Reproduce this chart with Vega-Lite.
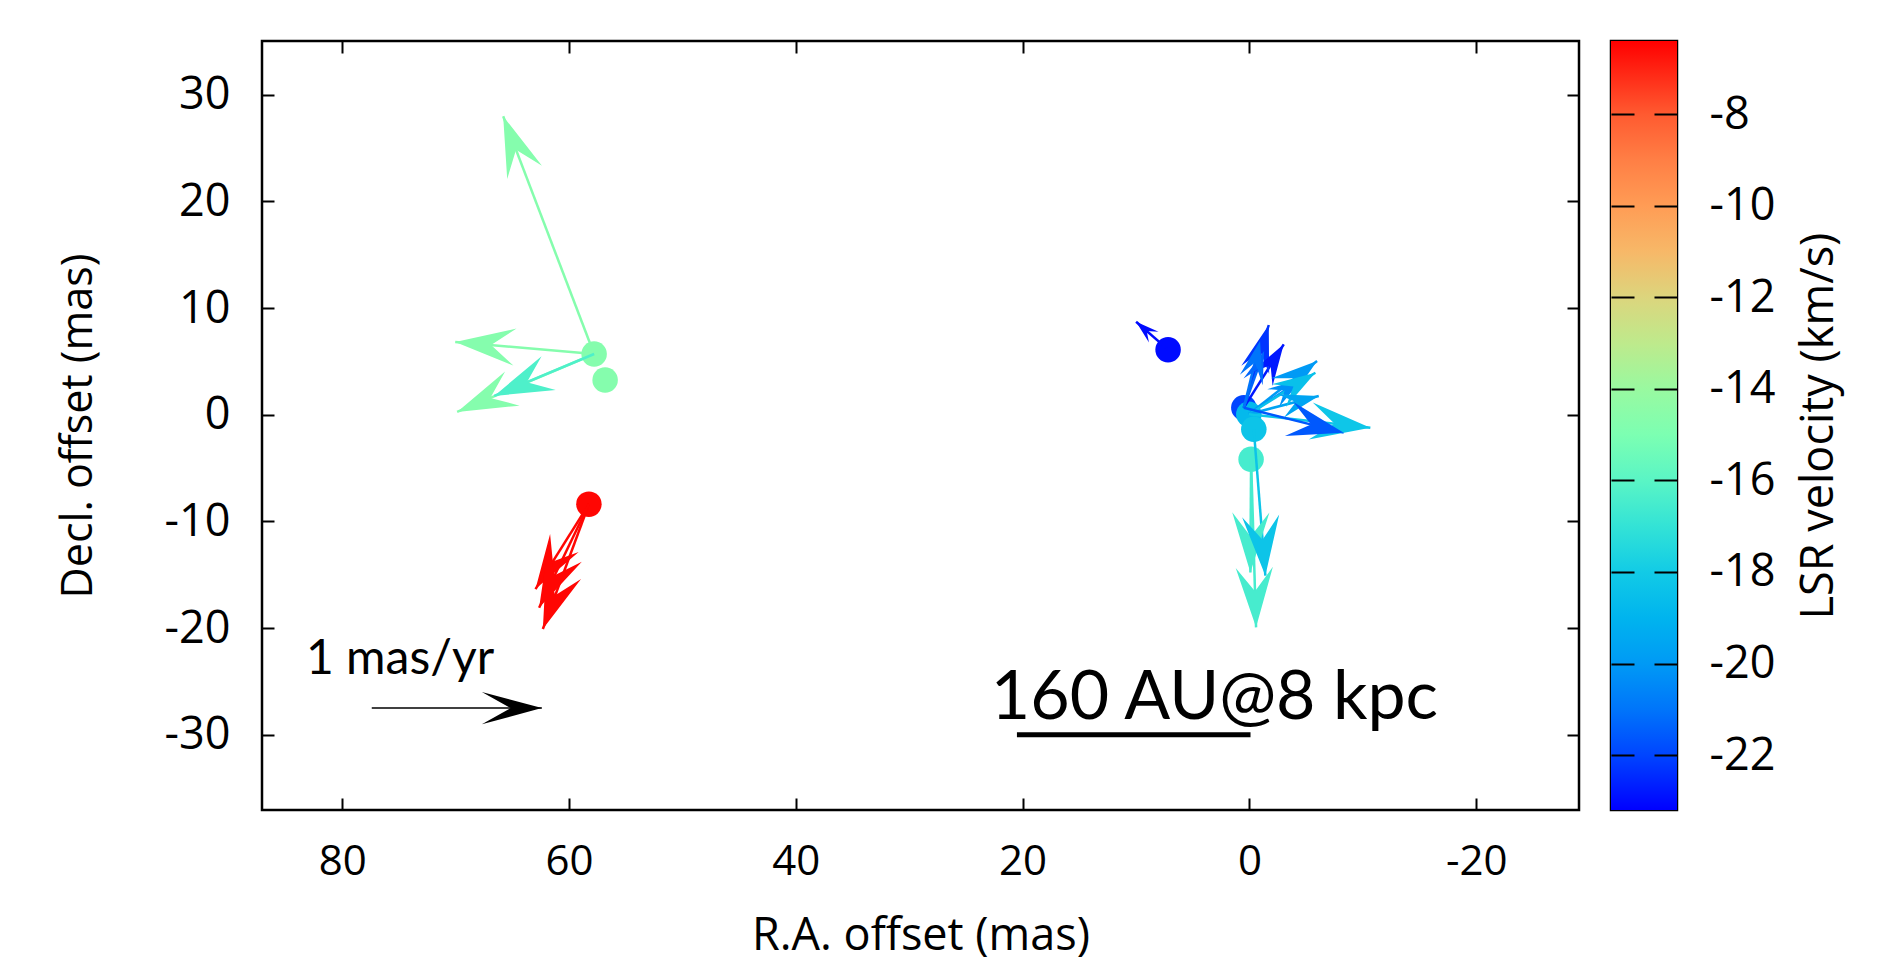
{
  "$schema": "https://vega.github.io/schema/vega-lite/v6.json",
  "background": "white",
  "padding": {"left": 55, "top": 38, "right": 5, "bottom": 5},
  "spacing": 26,
  "datasets": {
    "spots": [
      {"ra": 57.79, "dec": 5.69, "vlsr": -14.7},
      {"ra": 56.82, "dec": 3.26, "vlsr": -14.7},
      {"ra": 58.25, "dec": -8.38, "vlsr": -6.5},
      {"ra": 7.17, "dec": 6.10, "vlsr": -23.0},
      {"ra": 0.49, "dec": 0.66, "vlsr": -22.0},
      {"ra": 0.05, "dec": 0.05, "vlsr": -18.8},
      {"ra": -0.39, "dec": -1.36, "vlsr": -18.3},
      {"ra": -0.15, "dec": -4.17, "vlsr": -16.5}
    ],
    "vectors": [
      {"ra": 57.79, "dec": 5.69, "ra2": 65.81, "dec2": 27.98, "vlsr": -14.7, "mu": 1.48, "pa": 20.9},
      {"ra": 57.79, "dec": 5.69, "ra2": 70.04, "dec2": 6.82, "vlsr": -14.7, "mu": 0.81, "pa": 85.1},
      {"ra": 57.79, "dec": 5.69, "ra2": 69.87, "dec2": 0.26, "vlsr": -14.7, "mu": 0.87, "pa": 113.0},
      {"ra": 57.79, "dec": 5.69, "ra2": 66.60, "dec2": 1.76, "vlsr": -16.3, "mu": 0.63, "pa": 112.8},
      {"ra": 58.25, "dec": -8.38, "ra2": 62.31, "dec2": -20.08, "vlsr": -6.5, "mu": 0.77, "pa": 159.8},
      {"ra": 58.25, "dec": -8.38, "ra2": 62.96, "dec2": -16.34, "vlsr": -6.5, "mu": 0.58, "pa": 147.9},
      {"ra": 58.25, "dec": -8.38, "ra2": 62.64, "dec2": -18.09, "vlsr": -6.5, "mu": 0.67, "pa": 154.4},
      {"ra": 0.49, "dec": 0.66, "ra2": -1.71, "dec2": 8.41, "vlsr": -22.3, "mu": 0.50, "pa": 343.2},
      {"ra": 0.49, "dec": 0.66, "ra2": -3.03, "dec2": 6.60, "vlsr": -22.8, "mu": 0.44, "pa": 327.8},
      {"ra": 0.49, "dec": 0.66, "ra2": -1.30, "dec2": 5.97, "vlsr": -21.3, "mu": 0.35, "pa": 340.3},
      {"ra": 0.49, "dec": 0.66, "ra2": -0.94, "dec2": 6.91, "vlsr": -21.0, "mu": 0.40, "pa": 346.3},
      {"ra": 0.05, "dec": 0.05, "ra2": -5.97, "dec2": 5.04, "vlsr": -20.0, "mu": 0.50, "pa": 308.0},
      {"ra": 0.05, "dec": 0.05, "ra2": -4.65, "dec2": 3.35, "vlsr": -20.3, "mu": 0.37, "pa": 303.5},
      {"ra": 0.05, "dec": 0.05, "ra2": -5.82, "dec2": 3.94, "vlsr": -18.5, "mu": 0.46, "pa": 302.0},
      {"ra": 0.05, "dec": 0.05, "ra2": -6.12, "dec2": 1.76, "vlsr": -19.6, "mu": 0.42, "pa": 284.7},
      {"ra": 0.05, "dec": 0.05, "ra2": -10.67, "dec2": -1.21, "vlsr": -18.2, "mu": 0.71, "pa": 263.7},
      {"ra": 0.49, "dec": 0.66, "ra2": -8.32, "dec2": -1.68, "vlsr": -21.6, "mu": 0.60, "pa": 256.0},
      {"ra": -0.15, "dec": -4.17, "ra2": -0.59, "dec2": -19.93, "vlsr": -16.5, "mu": 0.98, "pa": 181.7},
      {"ra": -0.15, "dec": -4.17, "ra2": -0.09, "dec2": -14.78, "vlsr": -16.5, "mu": 0.66, "pa": 179.6},
      {"ra": -0.39, "dec": -1.36, "ra2": -1.41, "dec2": -15.09, "vlsr": -18.3, "mu": 0.86, "pa": 184.5},
      {"ra": 7.17, "dec": 6.10, "ra2": 9.99, "dec2": 8.72, "vlsr": -23.0, "mu": 0.25, "pa": 48.8}
    ],
    "key": [
      {"ra": 77.4, "dec": -27.5, "ra2": 62.4, "dec2": -27.5, "mu": 1.0, "pa": 270, "label": "1 mas/yr", "label_ra": 83.2, "label_dec": -22.96}
    ],
    "scalebar": [
      {"ra": 20.5, "ra2": -0.1, "dec": -30.0, "label": "160 AU@8 kpc", "label_ra": 22.8, "label_dec": -28.5}
    ],
    "colorbar": [
      {"vmin": -23.2, "vmax": -6.4, "left": 0, "right": 1}
    ]
  },
  "config": {
    "view": {"stroke": "black", "strokeWidth": 2.5},
    "axis": {
      "domain": false, "grid": false,
      "tickColor": "black", "tickWidth": 2, "tickSize": -12,
      "labelColor": "black", "titleColor": "black",
      "labelFont": "Open Sans", "titleFont": "Open Sans",
      "labelFontSize": 44, "titleFontSize": 44, "titleFontWeight": "normal",
      "labelExpr": "'' + datum.value"
    }
  },
  "hconcat": [
    {
      "width": 1317,
      "height": 769,
      "layer": [
        {
          "data": {"name": "spots"},
          "mark": {"type": "circle", "size": 650, "opacity": 1},
          "encoding": {
            "x": {"field": "ra", "type": "quantitative",
                  "scale": {"domain": [-29.07, 87.08], "reverse": true, "nice": false, "zero": false},
                  "axis": {"orient": "bottom", "values": [80, 60, 40, 20, 0, -20], "labelFontSize": 42, "labelPadding": 43, "title": "R.A. offset (mas)", "titleFontSize": 45, "titlePadding": 31}},
            "y": {"field": "dec", "type": "quantitative",
                  "scale": {"domain": [-37.05, 35.03], "nice": false, "zero": false},
                  "axis": {"orient": "left", "values": [-30, -20, -10, 0, 10, 20, 30], "labelFontSize": 45, "labelPadding": 44, "title": "Decl. offset (mas)", "titleFontSize": 43, "titlePadding": 64}},
            "color": {"field": "vlsr", "type": "quantitative",
                      "scale": {"domain": [-23.2, -22, -21, -20, -19, -18, -17, -16, -15, -14, -13, -12, -11, -10, -9, -8, -6.4],
                                "range": ["#0000ff", "#0045ff", "#0075fa", "#009af5", "#00b4ee", "#12cbe6", "#33e3d6", "#5af5c5", "#7cffb2", "#99f9a0", "#beea8c", "#dcd57d", "#f7b868", "#ff9c55", "#ff7f45", "#ff5a30", "#ff0000"],
                                "interpolate": "rgb"},
                      "legend": null}
          }
        },
        {
          "data": {"name": "vectors"},
          "mark": {"type": "rule", "strokeWidth": 2.5},
          "encoding": {
            "x": {"field": "ra", "type": "quantitative", "axis": {"orient": "top", "values": [80, 60, 40, 20, 0, -20], "labels": false, "title": null}},
            "y": {"field": "dec", "type": "quantitative", "axis": {"orient": "right", "values": [-30, -20, -10, 0, 10, 20, 30], "labels": false, "title": null}},
            "x2": {"field": "ra2"},
            "y2": {"field": "dec2"},
            "color": {"field": "vlsr", "type": "quantitative", "legend": null}
          }
        },
        {
          "data": {"name": "vectors"},
          "mark": {"type": "point", "shape": "M0,0L0.31,1L0,0.6L-0.31,1Z", "filled": true, "opacity": 1, "strokeWidth": 0},
          "encoding": {
            "x": {"field": "ra2", "type": "quantitative", "axis": null},
            "y": {"field": "dec2", "type": "quantitative", "axis": null},
            "angle": {"field": "pa", "type": "quantitative", "scale": {"domain": [0, 360], "range": [360, 0]}},
            "size": {"field": "mu", "type": "quantitative", "scale": {"type": "pow", "exponent": 2, "domain": [0, 0.64], "range": [0, 14400], "clamp": true}, "legend": null},
            "color": {"field": "vlsr", "type": "quantitative", "legend": null}
          }
        },
        {
          "data": {"name": "key"},
          "mark": {"type": "rule", "strokeWidth": 1.5, "color": "black"},
          "encoding": {
            "x": {"field": "ra", "type": "quantitative", "axis": null},
            "y": {"field": "dec", "type": "quantitative", "axis": null},
            "x2": {"field": "ra2"},
            "y2": {"field": "dec2"}
          }
        },
        {
          "data": {"name": "key"},
          "mark": {"type": "point", "shape": "M0,0L0.27,1L0,0.52L-0.27,1Z", "filled": true, "opacity": 1, "strokeWidth": 0, "color": "black"},
          "encoding": {
            "x": {"field": "ra2", "type": "quantitative", "axis": null},
            "y": {"field": "dec2", "type": "quantitative", "axis": null},
            "angle": {"field": "pa", "type": "quantitative"},
            "size": {"field": "mu", "type": "quantitative", "legend": null}
          }
        },
        {
          "data": {"name": "key"},
          "mark": {"type": "text", "font": "Lato", "fontSize": 48, "align": "left", "baseline": "middle", "color": "black"},
          "encoding": {
            "x": {"field": "label_ra", "type": "quantitative", "axis": null},
            "y": {"field": "label_dec", "type": "quantitative", "axis": null},
            "text": {"field": "label"}
          }
        },
        {
          "data": {"name": "scalebar"},
          "mark": {"type": "rule", "strokeWidth": 5, "color": "black"},
          "encoding": {
            "x": {"field": "ra", "type": "quantitative", "axis": null},
            "x2": {"field": "ra2"},
            "y": {"field": "dec", "type": "quantitative", "axis": null}
          }
        },
        {
          "data": {"name": "scalebar"},
          "mark": {"type": "text", "font": "Lato", "fontSize": 68, "align": "left", "baseline": "alphabetic", "color": "black"},
          "encoding": {
            "x": {"field": "label_ra", "type": "quantitative", "axis": null},
            "y": {"field": "label_dec", "type": "quantitative", "axis": null},
            "text": {"field": "label"}
          }
        }
      ],
      "resolve": {"axis": {"x": "independent", "y": "independent"}}
    },
    {
      "width": 66,
      "height": 769,
      "data": {"name": "colorbar"},
      "layer": [
        {
          "mark": {
            "type": "rect",
            "color": {
              "gradient": "linear", "x1": 0, "y1": 1, "x2": 0, "y2": 0,
              "stops": [
                {"offset": 0, "color": "#0000ff"},
                {"offset": 0.0714, "color": "#0045ff"},
                {"offset": 0.131, "color": "#0075fa"},
                {"offset": 0.1905, "color": "#009af5"},
                {"offset": 0.25, "color": "#00b4ee"},
                {"offset": 0.3095, "color": "#12cbe6"},
                {"offset": 0.369, "color": "#33e3d6"},
                {"offset": 0.4286, "color": "#5af5c5"},
                {"offset": 0.488, "color": "#7cffb2"},
                {"offset": 0.5476, "color": "#99f9a0"},
                {"offset": 0.607, "color": "#beea8c"},
                {"offset": 0.6667, "color": "#dcd57d"},
                {"offset": 0.726, "color": "#f7b868"},
                {"offset": 0.7857, "color": "#ff9c55"},
                {"offset": 0.845, "color": "#ff7f45"},
                {"offset": 0.9048, "color": "#ff5a30"},
                {"offset": 1, "color": "#ff0000"}
              ]
            }
          },
          "encoding": {
            "x": {"field": "left", "type": "quantitative", "scale": {"domain": [0, 1], "nice": false, "zero": false}, "axis": null},
            "x2": {"field": "right"},
            "y": {"field": "vmin", "type": "quantitative",
                  "scale": {"domain": [-23.2, -6.4], "nice": false, "zero": false},
                  "axis": {"orient": "left", "values": [-22, -20, -18, -16, -14, -12, -10, -8], "labels": false, "tickSize": -23, "zindex": 1, "title": null}},
            "y2": {"field": "vmax"}
          }
        },
        {
          "mark": {"type": "rect", "opacity": 0},
          "encoding": {
            "x": {"field": "left", "type": "quantitative", "axis": null},
            "x2": {"field": "right"},
            "y": {"field": "vmin", "type": "quantitative",
                  "axis": {"orient": "right", "values": [-22, -20, -18, -16, -14, -12, -10, -8], "tickSize": -23, "zindex": 1,
                           "labelFontSize": 45, "labelPadding": 55,
                           "title": "LSR velocity (km/s)", "titleFontSize": 45, "titleAngle": 270, "titleBaseline": "top", "titlePadding": 22}},
            "y2": {"field": "vmax"}
          }
        }
      ],
      "resolve": {"axis": {"y": "independent"}}
    }
  ]
}
